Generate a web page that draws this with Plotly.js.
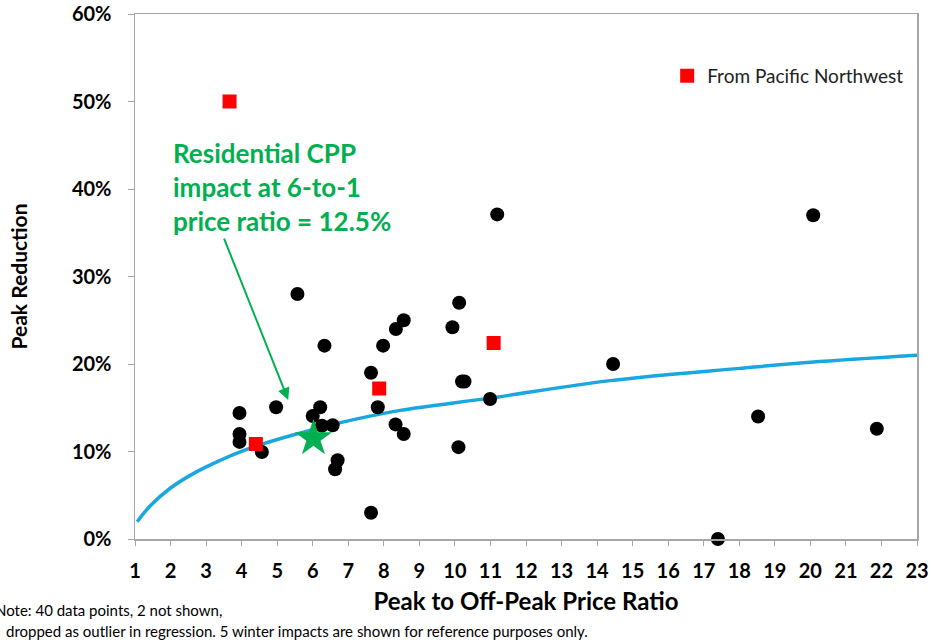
<!DOCTYPE html>
<html>
<head>
<meta charset="utf-8">
<script src="https://cdn.plot.ly/plotly-3.0.1.min.js"></script>
<style>html,body{margin:0;padding:0;background:#fff;}#chart{width:931px;height:642px;}</style>
</head>
<body>
<div id="chart"></div>
<script>
// Pilot data points (peak-to-off-peak ratio, peak reduction %)
const pilotRatio = [5.57, 6.33, 7.98, 8.56, 8.34, 10.12, 9.93, 7.64, 10.2, 10.27, 10.99, 7.83, 3.94, 4.97, 6.21, 6.0, 6.26, 6.56, 3.94, 3.94, 4.57, 6.70, 6.63, 8.33, 8.56, 10.1, 7.64, 11.19, 14.45, 20.08, 18.53, 21.87, 17.4];
const pilotReduction = [28.0, 22.1, 22.1, 25.0, 24.0, 27.0, 24.2, 19.0, 18.0, 18.0, 16.0, 15.05, 14.4, 15.05, 15.05, 14.06, 12.95, 13.0, 12.0, 11.1, 9.94, 9.0, 7.97, 13.1, 12.0, 10.5, 3.0, 37.1, 20.0, 37.0, 14.0, 12.6, 0.0];

// Pacific Northwest winter impacts
const pnwRatio = [3.66, 4.40, 7.87, 11.09];
const pnwReduction = [50.0, 10.86, 17.2, 22.4];

// Fitted curve
const curveRatio = [1.06, 1.43, 1.99, 2.74, 3.40, 3.96, 4.62, 5.37, 6.78, 8.46, 10.99, 14.37, 18.0, 20.0, 23.0];
const curveReduction = [1.98, 3.8, 5.8, 7.7, 9.0, 9.95, 10.9, 11.8, 13.3, 14.7, 16.1, 18.1, 19.5, 20.2, 21.0];

// Highlighted residential CPP impact
const starRatio = [6.02];
const starReduction = [11.5];

const xTicks = [1,2,3,4,5,6,7,8,9,10,11,12,13,14,15,16,17,18,19,20,21,22,23];
const yTicks = [0,10,20,30,40,50,60];

const FONT = 'Lato, "Open Sans", sans-serif';
const GREEN = '#00B050';

const traces = [
  {x: curveRatio, y: curveReduction, mode: 'lines', line: {color: '#1AA7E0', width: 3.5, shape: 'spline', smoothing: 1}, showlegend: false, hoverinfo: 'skip'},
  {x: pilotRatio, y: pilotReduction, mode: 'markers', marker: {color: '#000', size: 14, symbol: 'circle'}, showlegend: false, cliponaxis: false},
  {x: pnwRatio, y: pnwReduction, mode: 'markers', name: 'From Pacific Northwest', marker: {color: '#FF0000', size: 14, symbol: 'square'}, showlegend: true},
  {x: starRatio, y: starReduction, mode: 'markers', marker: {color: GREEN, size: 28, symbol: 'star'}, showlegend: false}
];

const layout = {
  width: 931, height: 642,
  margin: {l: 135, r: 14, t: 14, b: 103},
  paper_bgcolor: '#fff', plot_bgcolor: '#fff',
  font: {family: FONT, color: '#000'},
  showlegend: true,
  legend: {x: 0.99, xanchor: 'right', y: 0.882, yanchor: 'middle', font: {size: 19, family: FONT, color: '#222'}, bgcolor: 'rgba(0,0,0,0)', itemwidth: 30, tracegroupgap: 0},
  xaxis: {
    range: [1, 23], tickvals: xTicks, ticktext: xTicks.map(String),
    showgrid: false, zeroline: false,
    showline: true, linecolor: '#A6A6A6', linewidth: 1.5, mirror: true,
    ticks: 'outside', ticklen: 5, tickcolor: '#A6A6A6', tickwidth: 1,
    ticklabelstandoff: 8,
    tickfont: {size: 20, family: FONT, color: '#000', weight: 'bold'},
    title: {text: 'Peak to Off-Peak Price Ratio', font: {size: 24, family: FONT, color: '#000', weight: 'bold'}, standoff: 12}
  },
  yaxis: {
    range: [0, 60], tickvals: yTicks, ticktext: yTicks.map(v => v + '%'),
    showgrid: false, zeroline: false,
    showline: true, linecolor: '#A6A6A6', linewidth: 1.5, mirror: true,
    ticks: 'outside', ticklen: 6, tickcolor: '#A6A6A6', tickwidth: 1,
    ticklabelstandoff: 12,
    tickfont: {size: 20, family: FONT, color: '#000', weight: 'bold'},
    title: {text: 'Peak Reduction', font: {size: 21, family: FONT, color: '#000', weight: 'bold'}, standoff: 38}
  },
  annotations: [
    {xref: 'paper', yref: 'paper', x: 0.046, y: 0.67, xanchor: 'left', yanchor: 'middle', align: 'left', showarrow: false,
     text: 'Residential CPP<br>impact at 6-to-1<br>price ratio = 12.5%',
     font: {size: 26, family: FONT, color: GREEN, weight: 'bold'}},
    {xref: 'x', yref: 'y', x: 5.31, y: 15.9, axref: 'x', ayref: 'y', ax: 3.49, ay: 34.5, text: '', showarrow: true,
     arrowhead: 2, arrowsize: 1.2, arrowwidth: 2, arrowcolor: GREEN},
    {xref: 'paper', yref: 'paper', x: -0.181, y: -0.135, xanchor: 'left', yanchor: 'middle', showarrow: false,
     text: 'Note: 40 data points, 2 not shown,', font: {size: 15, family: FONT, color: '#000'}},
    {xref: 'paper', yref: 'paper', x: -0.167, y: -0.175, xanchor: 'left', yanchor: 'middle', showarrow: false,
     text: 'dropped as outlier in regression. 5 winter impacts are shown for reference purposes only.', font: {size: 15, family: FONT, color: '#000'}}
  ]
};

Plotly.newPlot('chart', traces, layout, {displayModeBar: false, staticPlot: true});
</script>
</body>
</html>
